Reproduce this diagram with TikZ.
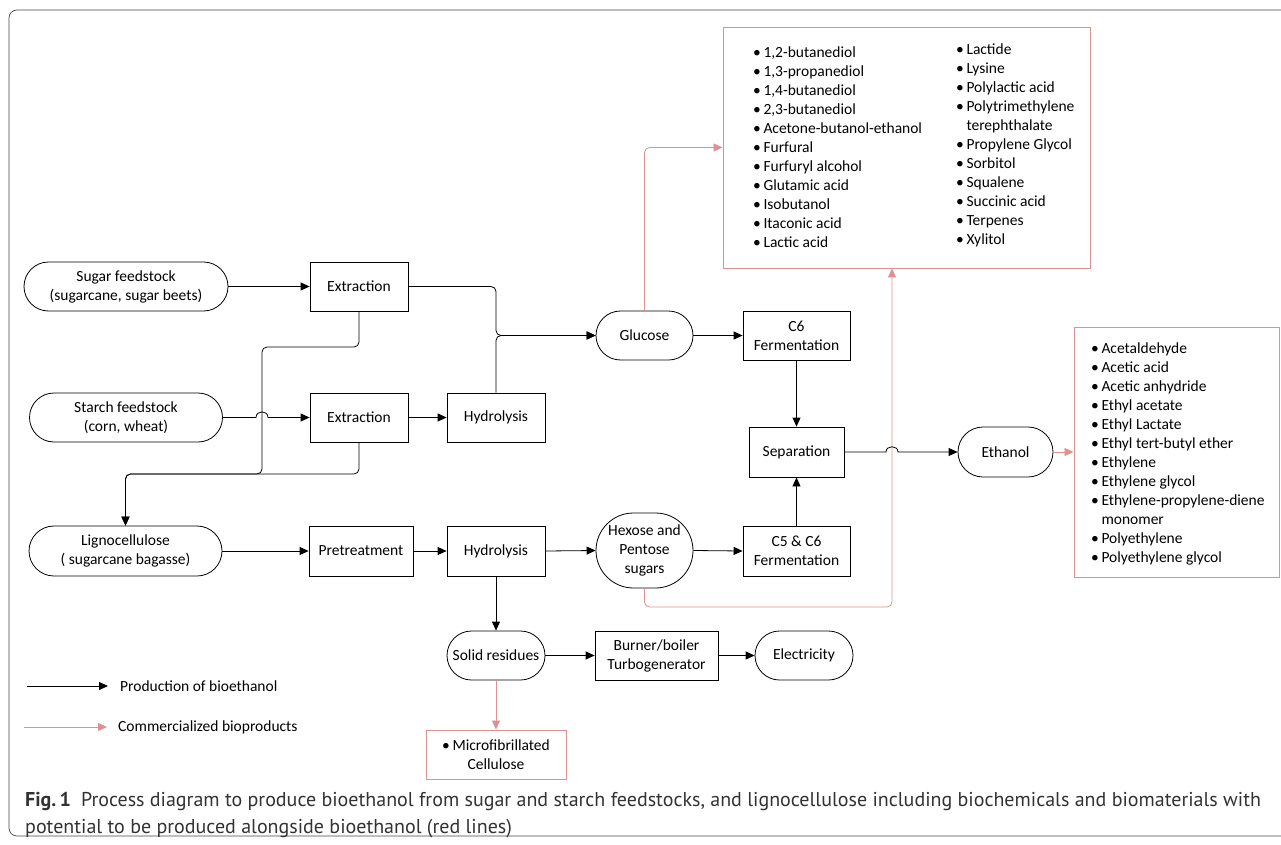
\documentclass[tikz,border=0pt]{standalone}
\usepackage{fontspec}
\setmainfont{Carlito}
\newfontfamily\capfont{PT Sans}
\usetikzlibrary{arrows.meta,shapes.misc}
\definecolor{redl}{RGB}{222,145,145}
\definecolor{framec}{RGB}{70,70,70}
\definecolor{captc}{RGB}{50,50,50}
\begin{document}
\begin{tikzpicture}[x=1pt,y=-1pt,
  every node/.style={font=\fontsize{15.5}{19}\selectfont, inner sep=0pt},
  box/.style={draw, rectangle, align=center, line width=0.8pt},
  pill/.style={draw, rounded rectangle, align=center, line width=0.8pt},
  redbox/.style={draw=redl, rectangle, line width=0.9pt},
  arr/.style={-{Triangle[length=9pt,width=8pt]}, line width=0.8pt, rounded corners=5pt},
  rarr/.style={arr, color=redl},
  list/.style={anchor=north west, align=left}]
\useasboundingbox (0,0) rectangle (1281,845);
\draw[framec, line width=0.7pt, rounded corners=8pt] (1300,10) -- (9,10) -- (9,836) -- (1300,836);

% nodes
\node[pill, minimum width=204pt, minimum height=49pt] (sugar) at (126,286.5) {Sugar feedstock\\(sugarcane, sugar beets)};
\node[box, minimum width=98pt, minimum height=49pt] (ext1) at (359,286.5) {Extraction};
\node[pill, minimum width=193pt, minimum height=49pt] (starch) at (126,417.5) {Starch feedstock\\(corn, wheat)};
\node[box, minimum width=98pt, minimum height=49pt] (ext2) at (359,417.5) {Extraction};
\node[box, minimum width=98pt, minimum height=49pt] (hyd1) at (496,417.5) {Hydrolysis};
\node[pill, minimum width=97pt, minimum height=49pt] (glucose) at (644.5,335.5) {Glucose};
\node[box, minimum width=107pt, minimum height=49pt] (c6) at (796.5,335.5) {C6\\Fermentation};
\node[box, minimum width=95pt, minimum height=50pt] (sep) at (796.5,452) {Separation};
\node[pill, minimum width=95pt, minimum height=50pt] (ethanol) at (1005.5,452) {Ethanol};
\node[pill, minimum width=193pt, minimum height=50pt] (ligno) at (125.5,551) {Lignocellulose\\( sugarcane bagasse)};
\node[box, minimum width=104pt, minimum height=50pt] (pre) at (361,551) {Pretreatment};
\node[box, minimum width=98pt, minimum height=50pt] (hyd2) at (496,551) {Hydrolysis};
\node[pill, minimum width=97pt, minimum height=75pt] (hexose) at (644.5,550.5) {Hexose and\\Pentose\\sugars};
\node[box, minimum width=107pt, minimum height=50pt] (c56) at (796.5,551) {C5 \& C6\\Fermentation};
\node[pill, minimum width=98pt, minimum height=49pt] (solid) at (496,655.5) {Solid residues};
\node[box, minimum width=123pt, minimum height=49pt] (burner) at (656.5,655.5) {Burner/boiler\\Turbogenerator};
\node[pill, minimum width=98pt, minimum height=49pt] (elec) at (804,655.5) {Electricity};

\node[redbox, minimum width=367pt, minimum height=241pt] (topbox) at (906.5,147.5) {};
\node[redbox, minimum width=205pt, minimum height=250pt] (rightbox) at (1176.5,452) {};
\node[redbox, minimum width=140pt, minimum height=49pt, align=center] (micro) at (496,754.5) {•\,Microfibrillated\\Cellulose};

\node[list] (tl) at (753,47) {•\,1,2-butanediol\\•\,1,3-propanediol\\•\,1,4-butanediol\\•\,2,3-butanediol\\•\,Acetone-butanol-ethanol\\•\,Furfural\\•\,Furfuryl alcohol\\•\,Glutamic acid\\•\,Isobutanol\\•\,Itaconic acid\\•\,Lactic acid};
\node[list] (tr) at (956,44) {•\,Lactide\\•\,Lysine\\•\,Polylactic acid\\•\,Polytrimethylene\\\phantom{•\,}terephthalate\\•\,Propylene Glycol\\•\,Sorbitol\\•\,Squalene\\•\,Succinic acid\\•\,Terpenes\\•\,Xylitol};
\node[list] (rl) at (1091,343) {•\,Acetaldehyde\\•\,Acetic acid\\•\,Acetic anhydride\\•\,Ethyl acetate\\•\,Ethyl Lactate\\•\,Ethyl tert-butyl ether\\•\,Ethylene\\•\,Ethylene glycol\\•\,Ethylene-propylene-diene\\\phantom{•\,}monomer\\•\,Polyethylene\\•\,Polyethylene glycol};

% coordinates
\coordinate (rb) at (892,607);

% black connectors
\draw[arr] (sugar.east) -- (ext1.west);
\draw[arr] (ext1.east) -| (hyd1.north |- glucose.west) -- (glucose.west);
\draw[arr] (hyd1.north) |- (glucose.west);
\draw[arr] (ext1.south) -- (359,347) -| (262,474) -| (ligno.north);
\draw[arr] (ext2.south) |- (ligno.north |- 0,474) -- (ligno.north);
\draw[arr, sharp corners] (starch.east) -- (256,417.5) .. controls (256,410) and (268,410) .. (268,417.5) -- (ext2.west);
\draw[arr] (ext2.east) -- (hyd1.west);
\draw[arr] (glucose.east) -- (c6.west);
\draw[arr] (c6.south) -- (sep.north);
\draw[arr] (c56.north) -- (sep.south);
\draw[arr] (ligno.east) -- (pre.west);
\draw[arr] (pre.east) -- (hyd2.west);
\draw[arr] (hyd2.east) -- (hexose.west);
\draw[arr] (hexose.east) -- (c56.west);
\draw[arr] (hyd2.south) -- (solid.north);
\draw[arr] (solid.east) -- (burner.west);
\draw[arr] (burner.east) -- (elec.west);

% red connectors
\draw[rarr] (glucose.north) |- (topbox.west);
\draw[rarr] (hexose.south) |- (rb) -- (topbox.south -| rb);
\draw[rarr] (ethanol.east) -- (rightbox.west);
\draw[rarr] (solid.south) -- (micro.north);

\draw[arr, sharp corners] (sep.east) -- (886,452) .. controls (886,445) and (898,445) .. (898,452) -- (ethanol.west);

% legend
\coordinate (la) at (27,686);
\coordinate (lb) at (108,686);
\coordinate (lc) at (24,727);
\coordinate (ld) at (107,727);
\draw[arr] (la) -- (lb);
\draw[rarr] (lc) -- (ld);
\node[anchor=west] (leg1) at (120,686) {Production of bioethanol};
\node[anchor=west] (leg2) at (118,727) {Commercialized bioproducts};

% caption
\node[anchor=north west, align=left, text=captc, font=\capfont\fontsize{20}{27}\selectfont] (cap) at (25,792)
 {\textbf{Fig.\,1}\hspace{10pt}Process diagram to produce bioethanol from sugar and starch feedstocks, and lignocellulose including biochemicals and biomaterials with\\potential to be produced alongside bioethanol (red lines)};
\end{tikzpicture}
\end{document}
